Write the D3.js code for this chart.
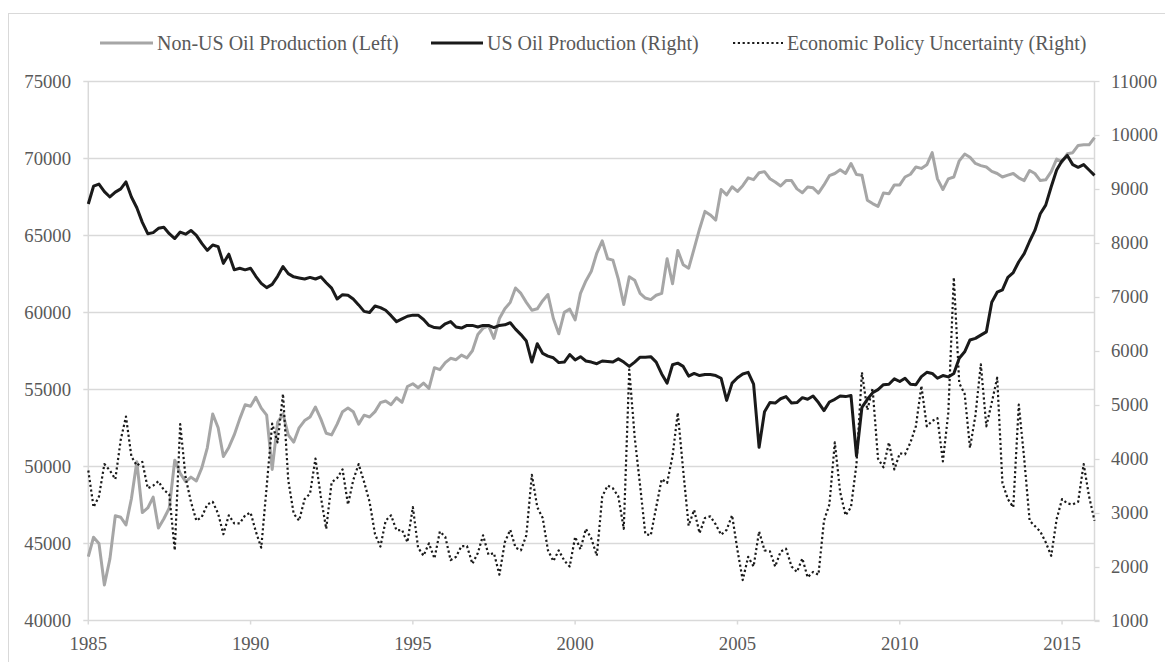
<!DOCTYPE html>
<html>
<head>
<meta charset="utf-8">
<script src="https://cdn.jsdelivr.net/npm/d3@7"></script>
<style>
  body { margin: 0; background: #fff; }
  text { font-family: "Liberation Serif", "Times New Roman", serif; fill: #595959; }
</style>
</head>
<body>
<div id="chart"></div>
<script>
// values, one point every two months (Jan 1985 -> Jan 2016)
const nonUS = [
  44140, 45400, 45000, 42300, 44000, 46800, 46700, 46200, 47900, 50300, 47000, 47300,
  48000, 46000, 46600, 47300, 50400, 49550, 49000, 49300, 49050, 49900, 51200, 53400,
  52500, 50640, 51230, 52040, 53080, 54000, 53900, 54480, 53780, 53320, 49800, 52850,
  53400, 52040, 51570, 52500, 52970, 53200, 53850, 53080, 52150, 52040, 52740, 53550,
  53780, 53550, 52740, 53320, 53200, 53550, 54130, 54240, 54000, 54450, 54150, 55180,
  55360, 55100, 55400, 55060, 56400, 56270, 56730, 57010, 56920, 57220, 57040, 57500,
  58550, 58960, 59120, 58300, 59590, 60220, 60640, 61570, 61220, 60640, 60130, 60220,
  60750, 61150, 59590, 58600, 59990, 60200, 59500, 61220, 62030, 62660, 63840, 64630,
  63470, 63380, 62150, 60500, 62300, 62080, 61220, 60920, 60820, 61100, 61220, 63470,
  61850, 64010, 63080, 62850, 64120, 65400, 66540, 66310, 65980, 67960, 67610, 68140,
  67840, 68210, 68720, 68600, 69050, 69120, 68660, 68450, 68190, 68540, 68540, 68000,
  67750, 68120, 68070, 67730, 68260, 68860, 69000, 69240, 69000, 69650, 68930, 68890,
  67260, 67050, 66870, 67730, 67680, 68260, 68260, 68770, 68950, 69420, 69330, 69560,
  70350, 68650, 67960, 68650, 68770, 69820, 70260, 70050, 69650, 69510, 69420, 69140,
  69000, 68770, 68890, 69000, 68720, 68540, 69190, 69000, 68540, 68590, 69120, 69930,
  69750, 70280, 70350, 70820, 70860, 70860, 71330
];

const us = [
  8720, 9050, 9090, 8950, 8850, 8940, 9000, 9130, 8850, 8650, 8380, 8170,
  8190, 8270, 8290, 8170, 8080, 8200, 8160, 8230, 8140, 7990, 7860, 7960,
  7930, 7620, 7790, 7500, 7530, 7500, 7530, 7380, 7250, 7170, 7230, 7380,
  7560, 7430, 7370, 7350, 7330, 7360, 7330, 7370, 7260, 7160, 6960, 7040,
  7030, 6960, 6850, 6730, 6710, 6830, 6800, 6750, 6650, 6540, 6590, 6640,
  6660, 6660, 6580, 6470, 6430, 6420, 6500, 6540, 6440, 6420, 6470, 6470,
  6440, 6470, 6470, 6430, 6470, 6480, 6520, 6400, 6300, 6180, 5790, 6130,
  5950, 5900, 5870, 5780, 5790, 5930, 5830, 5890, 5810, 5790, 5760, 5810,
  5800, 5790, 5850, 5790, 5710, 5790, 5880, 5880, 5890, 5790, 5570, 5400,
  5740, 5770, 5710, 5530, 5580, 5540, 5560, 5560, 5540, 5490, 5080, 5400,
  5500, 5570, 5600, 5380, 4210, 4870, 5040, 5030, 5110, 5150, 5030, 5040,
  5130, 5100, 5160, 5040, 4890, 5050, 5100, 5160, 5150, 5170, 4050, 4950,
  5100, 5220, 5280, 5370, 5380, 5480, 5430, 5490, 5380, 5370, 5520, 5600,
  5580, 5490, 5540, 5515, 5580, 5860, 5980, 6200, 6230, 6290, 6350, 6900,
  7085, 7130, 7360, 7450, 7650, 7800, 8030, 8230, 8540, 8700, 9040, 9350,
  9520, 9620, 9450, 9400, 9450, 9350, 9250
];

const epu = [
  3780, 3100, 3300, 3900, 3780, 3620, 4350, 4780, 4040, 3870, 3940, 3450,
  3500, 3580, 3420, 3340, 2300, 4640, 3650, 3200, 2850, 2920, 3150, 3200,
  2980, 2600, 2950, 2800, 2800, 2950, 3000, 2650, 2350, 3480, 4650, 4300,
  5200, 3600, 2980, 2850, 3250, 3350, 4000, 3300, 2700, 3560, 3640, 3800,
  3150, 3600, 3900, 3570, 3200, 2600, 2370, 2850, 2950, 2670, 2680, 2450,
  3100, 2350, 2200, 2430, 2150, 2650, 2550, 2120, 2180, 2380, 2380, 2050,
  2250, 2580, 2220, 2250, 1850, 2450, 2680, 2350, 2300, 2580, 3700, 3100,
  2900, 2300, 2100, 2300, 2110, 2000, 2550, 2320, 2700, 2520, 2200, 3300,
  3500, 3450, 3300, 2700, 5650, 4400, 3500, 2600, 2580, 3100, 3620, 3550,
  4050, 4850, 3780, 2760, 3050, 2620, 2900, 2930, 2780, 2590, 2680, 2950,
  2300, 1750, 2180, 2000, 2650, 2300, 2280, 2000, 2280, 2330, 2000, 1900,
  2150, 1800, 1900, 1850, 2850, 3150, 4300, 3380, 2950, 3100, 3900, 5600,
  4900, 5300, 4000, 3840, 4300, 3800, 4100, 4080, 4300, 4600, 5350, 4600,
  4700, 4750, 3950, 4850, 7360, 5400, 5200, 4200, 4800, 5750, 4600, 5040,
  5500, 3550, 3250, 3100, 5000, 4000, 2850, 2750, 2650, 2450, 2200, 2880,
  3250, 3170, 3150, 3200, 3900, 3300, 2850
];

const leftTicks = [40000, 45000, 50000, 55000, 60000, 65000, 70000, 75000];
const rightTicks = [1000, 2000, 3000, 4000, 5000, 6000, 7000, 8000, 9000, 10000, 11000];
const yearTicks = [1985, 1990, 1995, 2000, 2005, 2010, 2015];
const legendLabels = [
  "Non-US Oil Production (Left)",
  "US Oil Production (Right)",
  "Economic Policy Uncertainty (Right)"
];

const dates = d3.range(nonUS.length).map(i => new Date(1985, 2 * i, 1));

const width = 1165,
  height = 662;
const plot = { left: 88.3, right: 1094.5, top: 81, bottom: 620.5 };
const gridColor = "#d9d9d9";

const svg = d3
  .select("#chart")
  .append("svg")
  .attr("width", width)
  .attr("height", height);

// chart area border
svg
  .append("rect")
  .attr("x", 8.5)
  .attr("y", 13.5)
  .attr("width", 1200)
  .attr("height", 700)
  .attr("fill", "none")
  .attr("stroke", gridColor);

const x = d3
  .scaleTime()
  .domain([new Date(1985, 0, 1), new Date(2016, 0, 1)])
  .range([plot.left, plot.right]);
const yLeft = d3.scaleLinear().domain([40000, 75000]).range([plot.bottom, plot.top]);
const yRight = d3.scaleLinear().domain([1000, 11000]).range([plot.bottom, plot.top]);

// gridlines + left ticks
svg
  .selectAll(".grid")
  .data(leftTicks.slice(1))
  .enter()
  .append("line")
  .attr("x1", plot.left - 5)
  .attr("x2", plot.right)
  .attr("y1", d => Math.round(yLeft(d)) + 0.5)
  .attr("y2", d => Math.round(yLeft(d)) + 0.5)
  .attr("stroke", gridColor)
  .attr("stroke-width", 1.3);

// right ticks
svg
  .selectAll(".rtick")
  .data(rightTicks)
  .enter()
  .append("line")
  .attr("x1", plot.right)
  .attr("x2", plot.right + 5)
  .attr("y1", d => Math.round(yRight(d)) + 0.5)
  .attr("y2", d => Math.round(yRight(d)) + 0.5)
  .attr("stroke", gridColor)
  .attr("stroke-width", 1.3);

// axes lines
svg
  .append("line")
  .attr("x1", plot.left - 5)
  .attr("x2", plot.right + 5)
  .attr("y1", plot.bottom)
  .attr("y2", plot.bottom)
  .attr("stroke", gridColor)
  .attr("stroke-width", 1.5);
svg
  .append("line")
  .attr("x1", plot.left)
  .attr("x2", plot.left)
  .attr("y1", plot.top)
  .attr("y2", plot.bottom)
  .attr("stroke", gridColor)
  .attr("stroke-width", 1.5);
svg
  .append("line")
  .attr("x1", plot.right)
  .attr("x2", plot.right)
  .attr("y1", plot.top)
  .attr("y2", plot.bottom)
  .attr("stroke", gridColor)
  .attr("stroke-width", 1.5);

// x ticks
svg
  .selectAll(".xtick")
  .data(yearTicks)
  .enter()
  .append("line")
  .attr("x1", d => x(new Date(d, 0, 1)))
  .attr("x2", d => x(new Date(d, 0, 1)))
  .attr("y1", plot.bottom)
  .attr("y2", plot.bottom + 4)
  .attr("stroke", gridColor)
  .attr("stroke-width", 1.5);

const fontSize = "18.7px";

svg
  .selectAll(".ylabel")
  .data(leftTicks)
  .enter()
  .append("text")
  .attr("x", 71)
  .attr("y", d => yLeft(d))
  .attr("dy", "0.35em")
  .attr("text-anchor", "end")
  .style("font-size", fontSize)
  .text(d => d);

svg
  .selectAll(".y2label")
  .data(rightTicks)
  .enter()
  .append("text")
  .attr("x", 1111)
  .attr("y", d => yRight(d))
  .attr("dy", "0.35em")
  .attr("text-anchor", "start")
  .style("font-size", fontSize)
  .text(d => d);

svg
  .selectAll(".xlabel")
  .data(yearTicks)
  .enter()
  .append("text")
  .attr("x", d => x(new Date(d, 0, 1)))
  .attr("y", 643)
  .attr("dy", "0.35em")
  .attr("text-anchor", "middle")
  .style("font-size", fontSize)
  .text(d => d);

// series
const series = [
  { values: nonUS, scale: yLeft, color: "#a6a6a6", w: 3, dash: null },
  { values: us, scale: yRight, color: "#1a1a1a", w: 3, dash: null },
  { values: epu, scale: yRight, color: "#1a1a1a", w: 2.2, dash: "2.2,2.6" }
];

series.forEach(function (s) {
  const line = d3
    .line()
    .x((d, i) => x(dates[i]))
    .y(d => s.scale(d));
  svg
    .append("path")
    .datum(s.values)
    .attr("d", line)
    .attr("fill", "none")
    .attr("stroke", s.color)
    .attr("stroke-width", s.w)
    .attr("stroke-linejoin", "round")
    .attr("stroke-dasharray", s.dash);
});

// legend
const legendX = [100, 431, 733];
const legendLen = [53, 52, 50];
const legend = svg
  .selectAll(".legend")
  .data(legendLabels)
  .enter()
  .append("g")
  .attr("transform", (d, i) => "translate(" + legendX[i] + ",43)");

legend
  .append("line")
  .attr("x1", 0)
  .attr("x2", (d, i) => legendLen[i])
  .attr("y1", 0)
  .attr("y2", 0)
  .attr("stroke", (d, i) => series[i].color)
  .attr("stroke-width", (d, i) => series[i].w)
  .attr("stroke-dasharray", (d, i) => series[i].dash);

legend
  .append("text")
  .attr("x", (d, i) => legendLen[i] + 4)
  .attr("y", 0)
  .attr("dy", "0.35em")
  .style("font-size", "20px")
  .text(d => d);
</script>
</body>
</html>
